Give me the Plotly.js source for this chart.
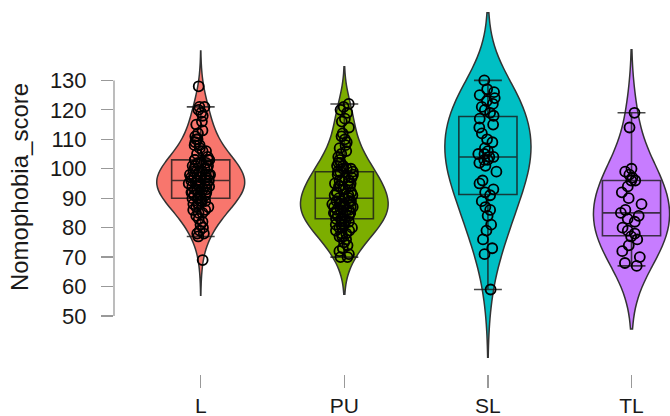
<!DOCTYPE html>
<html>
<head>
<meta charset="utf-8">
<script src="https://cdn.plot.ly/plotly-3.0.1.min.js"></script>
<style>html,body{margin:0;padding:0;background:#fff;}#chart{width:670px;height:416px;}</style>
</head>
<body>
<div id="chart"></div>
<script>
var categories = ['L', 'PU', 'SL', 'TL'];
var colors = ['#F8766D', '#7CAE00', '#00BFC4', '#C77CFF'];
var yTickVals = [50, 60, 70, 80, 90, 100, 110, 120, 130];

var scoresL = [69, 77, 78, 78, 79, 80, 81, 82, 83, 84, 85, 85, 86, 86, 87, 87, 88, 88, 88, 89, 89, 89,
  90, 90, 90, 90,
  91, 91, 91, 92, 92, 92, 93, 93, 93, 93, 94, 94, 94, 94, 95, 95, 95, 95, 96, 96, 96, 96, 96,
  97, 97, 97, 97, 98, 98, 98, 98, 99, 99, 99, 99, 100, 100, 100, 101, 101, 101, 102, 102, 102,
  103, 103, 103, 103,
  104, 105, 106, 106, 107, 108, 108, 109, 110, 110, 111, 112, 113, 115, 116, 118, 119, 120,
  121, 121, 128];
var scoresPU = [70, 70, 71, 72, 73, 74, 75, 76, 77, 77, 78, 78, 79, 79, 80, 80, 80, 81, 81, 81,
  82, 82, 82, 83, 83, 83,
  84, 84, 84, 85, 85, 85, 85, 86, 86, 86, 86, 87, 87, 87, 87, 88, 88, 88, 88, 89, 89, 89, 89,
  90, 90, 90,
  91, 91, 91, 92, 92, 92, 93, 93, 94, 94, 94, 95, 95, 95, 96, 96, 96, 97, 97, 98, 98, 99, 99, 99,
  100, 100, 100, 101, 101, 102, 102, 103, 104, 105, 106, 107, 108, 109, 110, 111, 112, 114,
  116, 117, 119, 120, 121, 122];
var scoresSL = [59, 71, 73, 76, 79, 81, 84, 86, 87, 89, 91, 92, 93, 95, 96, 99, 101, 102, 103,
  103, 104, 104, 105, 105, 106, 107, 109, 110, 112, 114, 115, 117, 118, 119, 120, 121, 122,
  123, 124, 125, 126, 127, 130];
var scoresTL = [67, 68, 70, 72, 74, 76, 77, 78, 79, 80, 82, 83, 84, 85, 86, 88, 90, 92, 94, 96,
  96, 97, 98, 99, 100, 114, 119];
var samples = [scoresL, scoresPU, scoresSL, scoresTL];
var bandwidths = [6, 6.3, 11.5, 10.7];
var violinWidths = [0.61, 0.61, 0.60, 0.53];

var traces = [];
categories.forEach(function (c, i) {
  traces.push({
    type: 'violin', x0: c, y: samples[i], name: c,
    bandwidth: bandwidths[i], spanmode: 'soft', width: violinWidths[i],
    fillcolor: colors[i], line: {color: '#333333', width: 1.5},
    points: false, box: {visible: false}, meanline: {visible: false},
    hoverinfo: 'skip', showlegend: false
  });
});
categories.forEach(function (c, i) {
  traces.push({
    type: 'box', x0: c, y: samples[i], name: c,
    width: 0.405, whiskerwidth: 0.48,
    fillcolor: 'rgba(0,0,0,0)', line: {color: 'rgba(25,25,25,0.8)', width: 1.6},
    boxpoints: 'all', jitter: 0.42, pointpos: 0,
    marker: {symbol: 'circle-open', size: 10, color: '#000000', line: {width: 1.8}},
    hoverinfo: 'skip', showlegend: false
  });
});

var layout = {
  width: 670, height: 416,
  margin: {l: 114, r: 0, t: 0, b: 42},
  paper_bgcolor: '#ffffff', plot_bgcolor: '#ffffff',
  showlegend: false,
  font: {family: 'Liberation Sans, Arial, sans-serif', color: '#1a1a1a'},
  violinmode: 'overlay', boxmode: 'overlay',
  xaxis: {
    type: 'category', categoryorder: 'array', categoryarray: categories,
    range: [-0.604, 3.268], showgrid: false, zeroline: false, showline: false,
    ticks: 'outside', ticklen: 13, tickwidth: 1.3, tickcolor: '#999999',
    tickfont: {size: 21, color: '#1a1a1a'}, ticklabelstandoff: 0
  },
  yaxis: {
    range: [30.3, 157.3], tickvals: yTickVals, ticktext: yTickVals.map(String),
    showgrid: false, zeroline: false, showline: false,
    ticks: 'outside', ticklen: 12, tickwidth: 1.3, tickcolor: '#999999',
    tickfont: {size: 22, color: '#1a1a1a'}, ticklabelstandoff: 10,
    title: {text: 'Nomophobia_score', font: {size: 24, color: '#1a1a1a'}, standoff: 14}
  },
  shapes: [{
    type: 'line', xref: 'paper', yref: 'y', x0: 0, x1: 0,
    y0: Math.min.apply(null, yTickVals), y1: Math.max.apply(null, yTickVals),
    line: {color: '#999999', width: 1.3}
  }]
};

Plotly.newPlot('chart', traces, layout, {displayModeBar: false, staticPlot: true});
</script>
</body>
</html>
